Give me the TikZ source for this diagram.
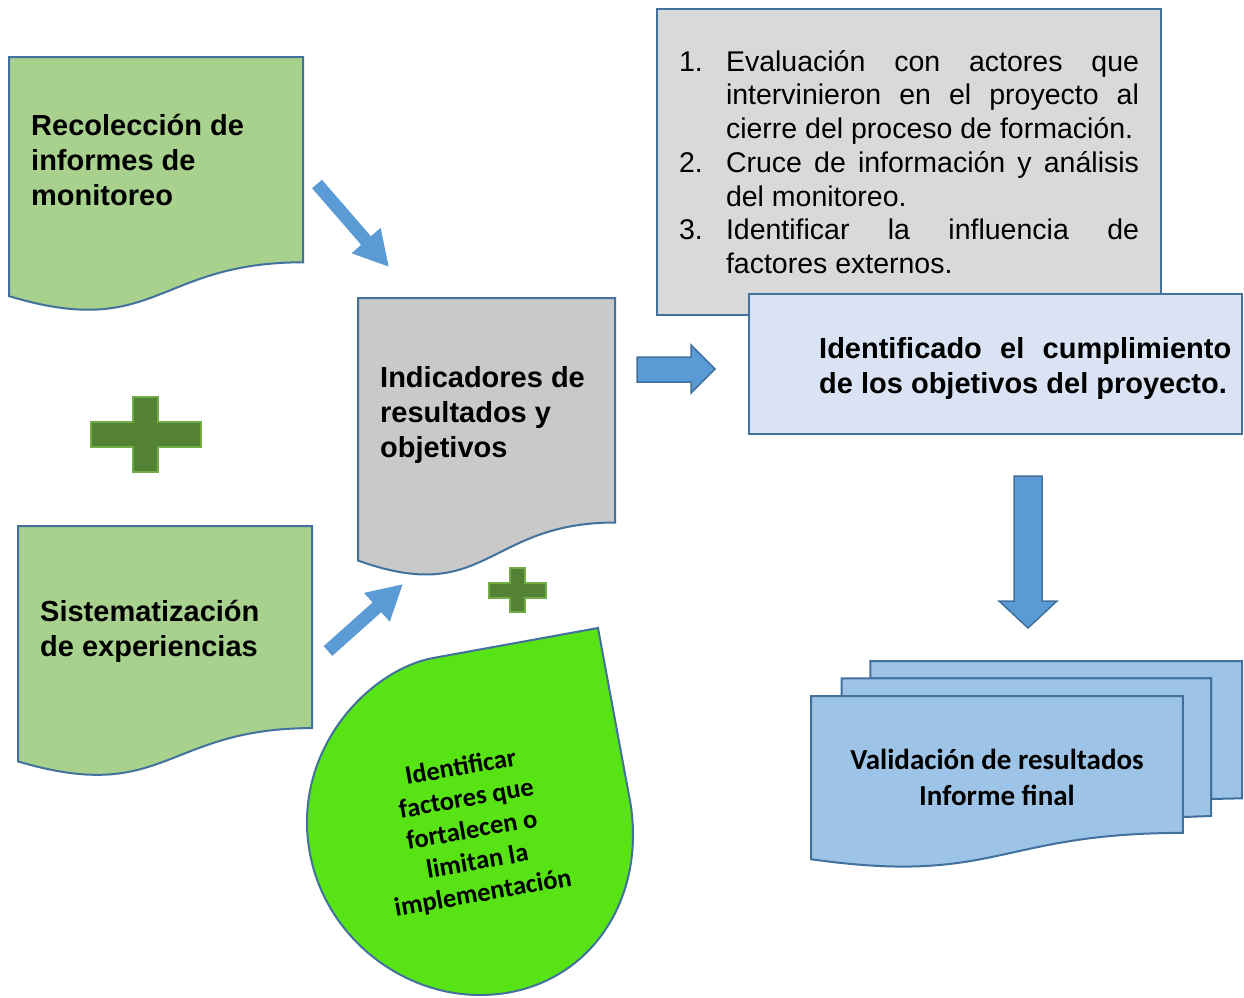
\documentclass[tikz,border=0pt]{standalone}
\usepackage{fontspec}
\setmainfont{Liberation Sans}
\newfontfamily\calibrifont{Carlito}
\usepackage{xcolor}
\usetikzlibrary{arrows.meta}

\definecolor{lineblue}{HTML}{41719C}
\definecolor{arrowblue}{HTML}{5B9BD5}
\definecolor{docgreen}{HTML}{A9D18E}
\definecolor{docgray}{HTML}{C9C9C9}
\definecolor{boxgray}{HTML}{D9D9D9}
\definecolor{boxblue}{HTML}{DAE3F3}
\definecolor{stackblue}{HTML}{9DC3E6}
\definecolor{dropgreen}{HTML}{58E315}
\definecolor{plusfill}{HTML}{548235}
\definecolor{plusline}{HTML}{70AD47}

\tikzset{
  shapeline/.style={draw=lineblue,line width=2pt,line join=miter},
  boldtext/.style={font=\bfseries\fontsize{29}{35}\selectfont,align=left,inner sep=0pt},
  diagarrow/.style={arrowblue,line width=13pt,-{Triangle[length=35pt,width=36pt]}},
  blockarrow/.style={fill=arrowblue,draw=lineblue,line width=1.5pt},
  plusmark/.style={fill=plusfill,draw=plusline,line width=2pt}
}

% cross: centre x, centre y, half width, half height, half bar
\newcommand{\plussign}[5]{%
  \draw[plusmark] ({#1-#5},{#2-#4}) -- ({#1+#5},{#2-#4}) -- ({#1+#5},{#2-#5})
    -- ({#1+#3},{#2-#5}) -- ({#1+#3},{#2+#5}) -- ({#1+#5},{#2+#5})
    -- ({#1+#5},{#2+#4}) -- ({#1-#5},{#2+#4}) -- ({#1-#5},{#2+#5})
    -- ({#1-#3},{#2+#5}) -- ({#1-#3},{#2-#5}) -- ({#1-#5},{#2-#5}) -- cycle;}

\begin{document}
\begin{tikzpicture}[x=1pt,y=-1pt]
    \useasboundingbox (0,0) rectangle (1244,997);

    % documents on the left
    \draw[shapeline,fill=docgreen] (9,57) -- (303,57) -- (303,262.3)
      .. controls (156,262.3) and (156,340.5) .. (9,296.1) -- cycle;
    \node[boldtext,anchor=west] (recol) at (31,160) {Recolección de\\informes de\\monitoreo};

    \draw[shapeline,fill=docgreen] (18,526) -- (312,526) -- (312,728.1)
      .. controls (165,728.1) and (165,805.1) .. (18,761.4) -- cycle;
    \node[boldtext,anchor=west] (siste) at (40,631.5) {Sistematización\\de experiencias};

    \draw[shapeline,fill=docgray] (358,298) -- (615,298) -- (615,522.5)
      .. controls (486.5,522.5) and (486.5,607) .. (358,560.5) -- cycle;
    \node[boldtext,anchor=west] (indic) at (380,415) {Indicadores de\\resultados y\\objetivos};

    \plussign{145.5}{434.5}{55}{37.5}{12.5}
    \plussign{517}{590}{28.5}{22}{7.5}

    % drop
    \draw[shapeline,fill=dropgreen] (598,628) -- (433,658)
      .. controls (375,669) and (307,735) .. (307,822)
      .. controls (307,920) and (390,995) .. (480,995)
      .. controls (570,995) and (633,925) .. (633,835)
      .. controls (633,815) and (630,800) .. (628,790) -- cycle;
    \node[font=\calibrifont\bfseries\fontsize{26.5}{32}\selectfont,align=center,rotate=10] (factores) at (472,831)
      {Identificar\\factores que\\fortalecen o\\limitan la\\implementación};

    % steps and result
    \node[shapeline,fill=boxgray,minimum width=504pt,minimum height=306pt,text width=460pt,
      inner xsep=22pt,align=justify,font=\fontsize{28.5}{33.7}\selectfont] (pasos) at (909,162) {%
      \parindent=0pt
      \hangindent=47pt\hangafter=0\noindent\llap{\makebox[47pt][l]{1.}}Evaluación con actores que\linebreak
      intervinieron en el proyecto al\linebreak cierre del proceso de formación.\par
      \hangindent=47pt\hangafter=0\noindent\llap{\makebox[47pt][l]{2.}}Cruce de información y análisis\linebreak
      del monitoreo.\par
      \hangindent=47pt\hangafter=0\noindent\llap{\makebox[47pt][l]{3.}}Identificar la influencia de\linebreak
      factores externos.\par};

    \node[shapeline,fill=boxblue,minimum width=493pt,minimum height=140pt] (cumpl) at (995.5,364) {};
    \node[anchor=west,text width=412pt,align=justify,inner sep=0pt,
      font=\bfseries\fontsize{29}{35}\selectfont] (cumpltxt) at (819,368)
      {Identificado el cumplimiento\linebreak de los objetivos del proyecto.};

    % stack of reports
    \draw[shapeline,fill=stackblue] (870.4,678.3) -- (870.4,661) -- (1242,661) -- (1242,798.3)
      -- (1211,799) -- (1211,678.3) -- cycle;
    \draw[shapeline,fill=stackblue] (841.6,696) -- (841.6,678.3) -- (1211,678.3) -- (1211,816)
      -- (1182.9,817) -- (1182.9,696) -- cycle;
    \draw[shapeline,fill=stackblue] (811,859.2) .. controls (997,885.5) and (997,832.9) .. (1182.9,832.9)
      -- (1182.9,696) -- (811,696) -- cycle;
    \node[font=\calibrifont\bfseries\fontsize{29}{36}\selectfont,align=center] (valid) at (997,777)
      {Validación de resultados\\Informe final};

    % arrows
    \coordinate (from1) at (317,184);
    \coordinate (to1) at (389,267);
    \coordinate (from2) at (328,651);
    \coordinate (to2) at (403,584);
    \draw[diagarrow] (from1) -- (to1);
    \draw[diagarrow] (from2) -- (to2);

    \draw[blockarrow] (637,357) -- (691,357) -- (691,345) -- (715,369) -- (691,393) -- (691,382)
      -- (637,382) -- cycle;
    \draw[blockarrow] (1014,476) -- (1042,476) -- (1042,601) -- (1057,601) -- (1028,628)
      -- (999,601) -- (1014,601) -- cycle;
\end{tikzpicture}
\end{document}
